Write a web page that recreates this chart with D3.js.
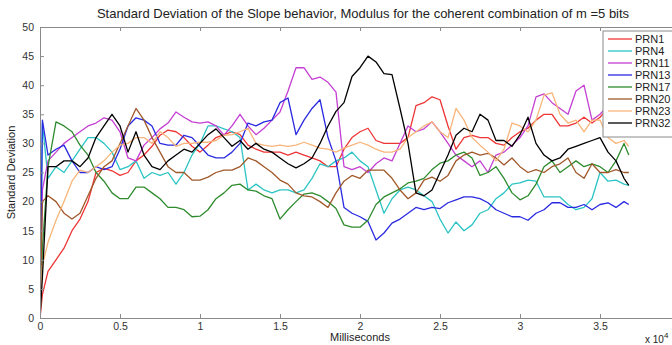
<!DOCTYPE html>
<html>
<head>
<meta charset="utf-8">
<script src="https://cdn.jsdelivr.net/npm/d3@7"></script>
<style>
  html, body { margin: 0; padding: 0; background: #fff; }
  svg { display: block; font-family: Arial, "Liberation Sans", sans-serif; }
</style>
</head>
<body>
<svg id="chart" width="672" height="345"></svg>
<script>
// Sample times, in units of 10^4 milliseconds
const times = [0, 0.015, 0.05, 0.10, 0.15, 0.20, 0.25, 0.30, 0.35, 0.40, 0.45, 0.50, 0.55, 0.60, 0.65, 0.70,
  0.75, 0.80, 0.85, 0.90, 0.95, 1.00, 1.05, 1.10, 1.15, 1.20, 1.25, 1.30, 1.35, 1.40, 1.45, 1.50,
  1.55, 1.60, 1.65, 1.70, 1.75, 1.80, 1.85, 1.90, 1.95, 2.00, 2.05, 2.10, 2.15, 2.20, 2.25, 2.30,
  2.35, 2.40, 2.45, 2.50, 2.55, 2.60, 2.65, 2.70, 2.75, 2.80, 2.85, 2.90, 2.95, 3.00, 3.05, 3.10,
  3.15, 3.20, 3.25, 3.30, 3.35, 3.40, 3.45, 3.50, 3.55, 3.60, 3.65, 3.68];

const seriesNames = ["PRN1", "PRN4", "PRN11", "PRN13", "PRN17", "PRN20", "PRN23", "PRN32"];
const seriesColors = ["#ee3535", "#2cc4c4", "#c43fd2", "#2a2ae0", "#2e8b2e", "#a0582a", "#f7b57a", "#000000"];

const prn1 = [0, 4, 8, 10, 12, 15, 17, 20, 25, 25.7, 25.3, 24.5, 25, 27, 28, 29.5, 31.4, 32.3, 32, 31, 29.5,
  28.5, 29.7, 31, 31.5, 32, 31.5, 29.7, 29, 28.5, 28.5, 28.5, 28, 28.5, 28, 27.5, 27, 26, 26, 29, 31,
  32, 32.6, 30.5, 30, 30, 30, 31, 36.5, 37, 38, 37.5, 33, 29, 31, 31.4, 31, 31, 30, 29.7, 31, 32,
  32.6, 34, 35, 35, 33, 33, 33.5, 34.5, 33.5, 34.5, 36, 36, 35, 36];
const prn4 = [0, 33.5, 24, 26, 25, 27, 29, 31, 31, 30, 28.5, 25.5, 26, 27, 24, 25, 24.5, 25, 23, 25, 28,
  30, 33, 33, 32.5, 32, 31, 22, 23, 22, 21.5, 22, 22, 21.5, 22, 24, 26.5, 26, 27, 27.5, 28.5, 27,
  26, 22, 18, 20.5, 22, 22.5, 22, 21, 20, 17, 14.6, 16.5, 15, 16, 18, 18.6, 20.5, 21.5, 23, 23.2,
  23.7, 23.5, 20.8, 20.8, 20.8, 19.5, 18.6, 19, 20.5, 25, 23.5, 23.7, 23, 22.8];
const prn11 = [0, 22, 27, 28.5, 30, 31, 32, 33, 33.5, 34.4, 34, 32, 27.5, 27, 29.7, 31, 32.5, 33.5, 35.4,
  34.5, 33.7, 33.5, 33.7, 33, 31.4, 33, 35, 33, 31.5, 32.6, 34, 35.4, 39, 43, 43, 41, 41.4, 40.5,
  38.8, 26, 25.5, 26, 25, 26.5, 27.5, 27, 30, 33, 32, 32.5, 33.7, 32, 30, 28, 27, 26, 27, 25, 28,
  28.5, 29.7, 31, 33, 38, 38.5, 37, 36, 35, 39, 40, 34, 35, 36.5, 36, 37, 37];
const prn13 = [0, 34, 28, 29, 29.7, 27, 25, 25, 26, 25.5, 26, 29, 33, 34.4, 34, 33, 30, 29.7, 29.7, 31.4,
  31, 29.5, 28, 27.5, 27.5, 28.5, 30, 33.5, 33, 33.7, 34, 37, 37.8, 31.5, 34, 36, 37.5, 31, 27, 19,
  18, 17.4, 16.6, 13.4, 14.6, 16.3, 17, 18, 19, 18.6, 19, 18.8, 19.8, 20.3, 20.8, 20.8, 20.5, 19.8,
  18.6, 18, 17.4, 17.4, 16.8, 18, 18.6, 19.8, 19.8, 19, 19, 19.5, 18.6, 19.5, 19.8, 19, 20, 19.5];
const prn17 = [0, 12, 26, 33.7, 33, 32, 29.7, 28, 25, 23.5, 21.5, 20.5, 20.5, 22.5, 22.5, 21.5, 20.5, 19,
  19, 18.6, 17.4, 17.5, 18.6, 20.5, 21.5, 22.8, 23, 22, 21.8, 21, 20.5, 17, 18.6, 20, 21.3, 21.5, 21,
  20, 18.8, 16, 15.6, 15.6, 16.8, 19.5, 20.8, 21.5, 22.2, 23.2, 23.5, 24, 25.5, 26.6, 27, 28, 28.5,
  27.5, 24.5, 25, 26, 24, 21.5, 20.3, 21, 23, 26, 27, 25, 26, 27, 26, 26.5, 26, 25, 27, 30, 28];
const prn20 = [0, 20, 21, 20, 18, 17, 18, 21, 24, 26, 27, 30, 33, 36, 34, 31, 28.5, 26, 25, 25, 23.7, 23.7,
  24.2, 25, 25.4, 25.4, 26, 27.5, 27, 26, 25, 23.7, 23, 21.5, 21, 20.8, 20, 19, 21.5, 23.5, 24.5, 24,
  25.4, 25.4, 25.4, 24, 22, 20.5, 21.5, 23.7, 24.2, 23.5, 24.5, 27, 28, 28.5, 28, 28.3, 27.5, 26.3,
  27.5, 26, 25, 25.5, 25, 26, 26.5, 27.5, 25, 24, 26.5, 25, 25, 25.5, 25, 25];
const prn23 = [0, 9, 13, 16.8, 20, 23.5, 25.4, 25, 26, 27, 28.5, 29.7, 30, 31, 31, 30, 32, 31, 29.5, 30, 30,
  30.2, 30.2, 30.5, 31.4, 31.5, 32, 32.6, 30, 29.7, 29.5, 29.7, 29.5, 29.7, 30.2, 29.7, 29.2, 29, 28.5,
  29.2, 29.7, 30.2, 29.7, 29, 28.5, 28.5, 29, 31, 32, 33, 33.7, 32, 31, 36, 34, 31, 29.7, 28.5, 27, 29,
  33.5, 33, 32, 34, 38.3, 38.7, 35, 33.5, 34, 32, 34, 34, 31, 30, 30.5, 29.5];
const prn32 = [0, 7, 26, 26, 27, 27, 26, 27.5, 31, 33, 35, 33, 28.5, 32, 28, 26, 25.5, 27, 28, 29, 28.5, 30,
  31.5, 32.5, 31, 29.5, 30.5, 29, 30, 29, 28.5, 27.5, 26.5, 25.8, 26.5, 27.5, 30, 33, 35.5, 37, 41.5,
  43, 45, 44, 42, 41.8, 36, 30, 21.5, 21, 22, 25, 28, 31.4, 32.6, 32, 35, 34, 30.5, 30.5, 29.5, 31.5,
  34.5, 30, 28, 27, 27.5, 29, 29.5, 30, 30.5, 31, 28.5, 27, 24, 22.8];

const seriesValues = [prn1, prn4, prn11, prn13, prn17, prn20, prn23, prn32];

const xTicks = [0, 0.5, 1, 1.5, 2, 2.5, 3, 3.5, 4];
const xTickLabels = ["0", "0.5", "1", "1.5", "2", "2.5", "3", "3.5", ""];
const yTicks = [0, 5, 10, 15, 20, 25, 30, 35, 40, 45, 50];

const svg = d3.select("#chart");
const margin = { left: 40, right: 680, top: 27, bottom: 318 };

const x = d3.scaleLinear().domain([0, 4]).range([margin.left, margin.right]);
const y = d3.scaleLinear().domain([0, 50]).range([margin.bottom, margin.top]);

const axisColor = "#8a8a8a";
const labelColor = "#333";

// data lines (clipped to the axes box)
svg.append("clipPath").attr("id", "plotClip")
  .append("rect")
  .attr("x", margin.left).attr("y", margin.top)
  .attr("width", margin.right - margin.left).attr("height", margin.bottom - margin.top);

const line = d3.line()
  .x((d, i) => x(times[i]))
  .y(d => y(d));

const lines = svg.append("g").attr("clip-path", "url(#plotClip)");
seriesValues.forEach((vals, k) => {
  lines.append("path")
    .datum(vals)
    .attr("fill", "none")
    .attr("stroke", seriesColors[k])
    .attr("stroke-width", 1.3)
    .attr("stroke-linejoin", "round")
    .attr("d", line);
});

// axes box with inward ticks on all four sides
function styleAxis(g) {
  g.selectAll(".domain").attr("stroke", axisColor);
  g.selectAll(".tick line").attr("stroke", axisColor);
  g.selectAll(".tick text").attr("fill", labelColor).attr("font-size", 10.5);
}

svg.append("g")
  .attr("transform", `translate(0,${margin.bottom})`)
  .call(d3.axisBottom(x).tickValues(xTicks).tickSizeInner(-4).tickSizeOuter(0).tickPadding(5)
    .tickFormat((d, i) => xTickLabels[i]))
  .call(styleAxis);

svg.append("g")
  .attr("transform", `translate(0,${margin.top})`)
  .call(d3.axisTop(x).tickValues(xTicks).tickSizeInner(-4).tickSizeOuter(0).tickFormat(""))
  .call(styleAxis);

svg.append("g")
  .attr("transform", `translate(${margin.left},0)`)
  .call(d3.axisLeft(y).tickValues(yTicks).tickSizeInner(-4).tickSizeOuter(0).tickPadding(6))
  .call(styleAxis);

svg.append("g")
  .attr("transform", `translate(${margin.right},0)`)
  .call(d3.axisRight(y).tickValues(yTicks).tickSizeInner(-4).tickSizeOuter(0).tickFormat(""))
  .call(styleAxis);

// title and axis labels
svg.append("text")
  .attr("x", (margin.left + margin.right) / 2 + 3).attr("y", 18)
  .attr("text-anchor", "middle").attr("font-size", 13).attr("fill", "#222")
  .text("Standard Deviation of the Slope behavior, Modulus for the coherent combination of m =5 bits");

svg.append("text")
  .attr("x", 360).attr("y", 341)
  .attr("text-anchor", "middle").attr("font-size", 11).attr("fill", "#222")
  .text("Milliseconds");

svg.append("text")
  .attr("transform", `translate(15,${(margin.top + margin.bottom) / 2}) rotate(-90)`)
  .attr("text-anchor", "middle").attr("font-size", 11).attr("fill", "#222")
  .text("Standard Deviation");

const expLabel = svg.append("text")
  .attr("x", 645).attr("y", 343).attr("font-size", 10).attr("fill", "#222");
expLabel.append("tspan").text("x 10");
expLabel.append("tspan").attr("dy", -5).attr("font-size", 8).text("4");

// legend
const legend = svg.append("g");
const lgX = 603, lgY = 31, lgRow = 12;
legend.append("rect")
  .attr("x", lgX).attr("y", lgY)
  .attr("width", 100).attr("height", 106)
  .attr("fill", "#fff").attr("stroke", axisColor);

seriesNames.forEach((name, k) => {
  const cy = lgY + 8 + k * lgRow;
  legend.append("line")
    .attr("x1", lgX + 5).attr("x2", lgX + 29)
    .attr("y1", cy).attr("y2", cy)
    .attr("stroke", seriesColors[k]).attr("stroke-width", 1.3);
  legend.append("text")
    .attr("x", lgX + 32).attr("y", cy + 4)
    .attr("font-size", 11).attr("fill", "#222")
    .text(name);
});
</script>
</body>
</html>
